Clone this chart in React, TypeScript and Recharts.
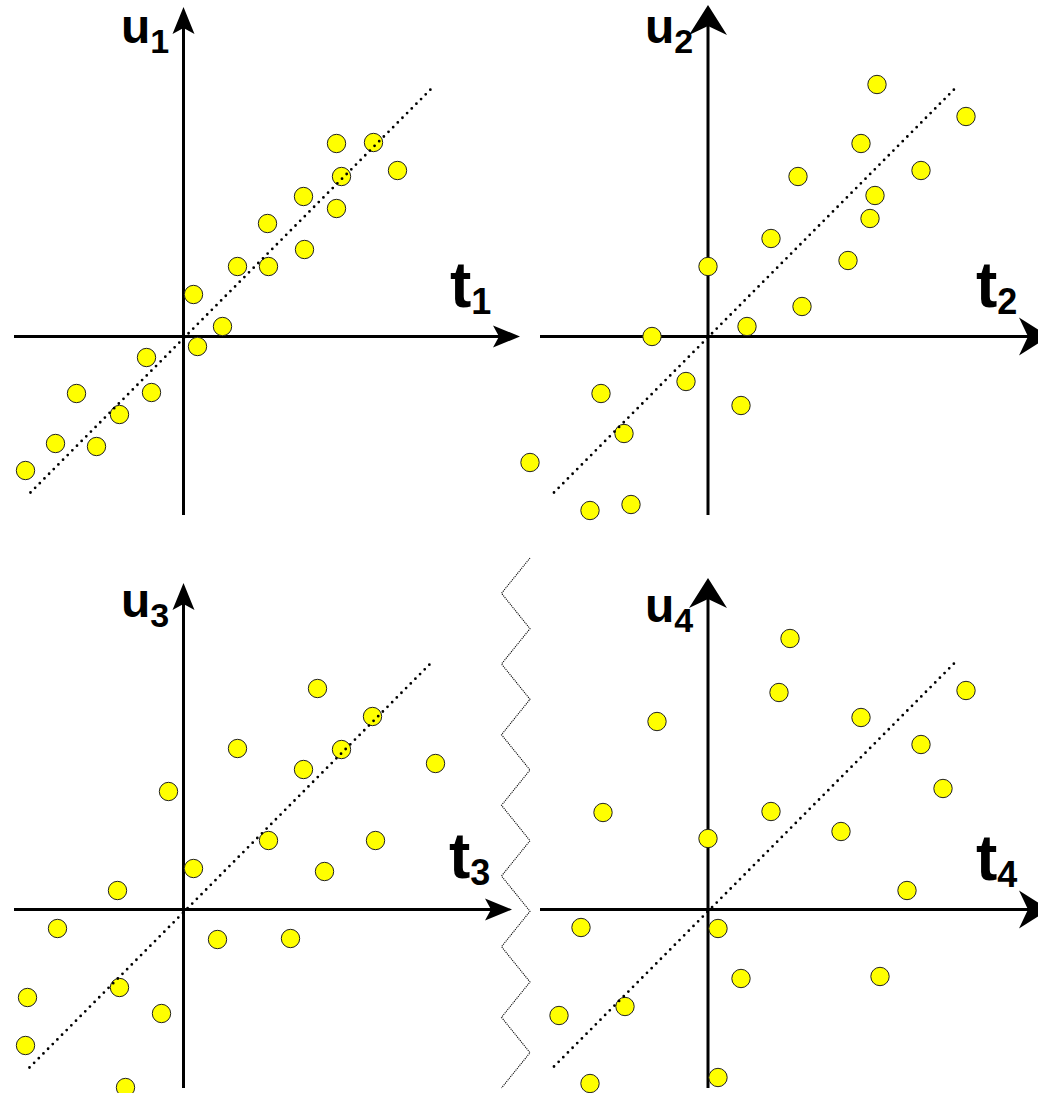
import React from 'react';
import { ScatterChart, Scatter, XAxis, YAxis, ReferenceLine } from 'recharts';

type Pt = { t: number; u: number };

// score pairs (t_i, u_i) for the four latent components
const SCORES_1: Pt[] = [
  { t: -15.8, u: -13.4 }, { t: -12.8, u: -10.7 }, { t: -8.7, u: -11.0 }, { t: -10.7, u: -5.7 },
  { t: -6.4, u: -7.8 }, { t: -3.2, u: -5.6 }, { t: -3.7, u: -2.1 }, { t: 1.4, u: -1.0 },
  { t: 1.0, u: 4.2 }, { t: 3.9, u: 1.0 }, { t: 5.4, u: 7.0 }, { t: 8.5, u: 7.0 },
  { t: 8.4, u: 11.3 }, { t: 12.1, u: 8.7 }, { t: 12.0, u: 14.0 }, { t: 15.3, u: 12.8 },
  { t: 15.8, u: 16.0 }, { t: 15.3, u: 19.3 }, { t: 19.0, u: 19.4 }, { t: 21.4, u: 16.6 },
];
const SCORES_2: Pt[] = [
  { t: -17.8, u: -12.6 }, { t: -11.8, u: -17.4 }, { t: -7.7, u: -16.8 }, { t: -10.7, u: -5.7 },
  { t: -8.4, u: -9.7 }, { t: -5.6, u: 0.0 }, { t: -2.2, u: -4.5 }, { t: 0.0, u: 7.0 },
  { t: 3.3, u: -6.9 }, { t: 3.9, u: 1.0 }, { t: 6.3, u: 9.8 }, { t: 9.0, u: 16.0 },
  { t: 9.4, u: 3.0 }, { t: 14.0, u: 7.6 }, { t: 15.3, u: 19.3 }, { t: 16.2, u: 11.8 },
  { t: 16.7, u: 14.1 }, { t: 16.9, u: 25.2 }, { t: 21.3, u: 16.6 }, { t: 25.8, u: 22.0 },
];
const SCORES_3: Pt[] = [
  { t: -15.6, u: -8.8 }, { t: -15.8, u: -13.6 }, { t: -12.6, u: -1.9 }, { t: -6.6, u: 1.9 },
  { t: -6.4, u: -7.8 }, { t: -5.8, u: -17.8 }, { t: -2.2, u: -10.4 }, { t: -1.5, u: 11.8 },
  { t: 1.0, u: 4.1 }, { t: 3.4, u: -3.0 }, { t: 5.4, u: 16.1 }, { t: 8.5, u: 6.9 },
  { t: 10.7, u: -2.9 }, { t: 12.0, u: 14.0 }, { t: 13.4, u: 22.1 }, { t: 14.1, u: 3.8 },
  { t: 15.8, u: 16.0 }, { t: 18.9, u: 19.3 }, { t: 19.2, u: 6.9 }, { t: 25.2, u: 14.6 },
];
const SCORES_4: Pt[] = [
  { t: -14.9, u: -10.6 }, { t: -12.7, u: -1.8 }, { t: -11.8, u: -17.4 }, { t: -10.5, u: 9.7 },
  { t: -8.3, u: -9.7 }, { t: -5.1, u: 18.8 }, { t: 0.0, u: 7.1 }, { t: 1.0, u: -1.9 },
  { t: 1.0, u: -16.8 }, { t: 3.3, u: -6.9 }, { t: 6.3, u: 9.8 }, { t: 7.1, u: 21.7 },
  { t: 8.2, u: 27.1 }, { t: 13.3, u: 7.8 }, { t: 15.3, u: 19.2 }, { t: 17.2, u: -6.7 },
  { t: 19.9, u: 1.9 }, { t: 21.3, u: 16.5 }, { t: 23.5, u: 12.1 }, { t: 25.8, u: 21.9 },
];

// u = t reference lines
const TREND_1: Pt[] = [{ t: -15.3, u: -15.6 }, { t: 25.0, u: 25.0 }];
const TREND_2: Pt[] = [{ t: -15.4, u: -15.6 }, { t: 24.8, u: 24.9 }];
const TREND_3: Pt[] = [{ t: -15.4, u: -15.8 }, { t: 24.9, u: 24.8 }];
const TREND_4: Pt[] = [{ t: -15.4, u: -15.7 }, { t: 24.8, u: 24.8 }];

// axis extents [start, arrow tip]
const T_AXIS = [[-16.95, 33.65], [-16.8, 34.1], [-16.95, 32.85], [-16.8, 34.1]];
const U_AXIS = [[-17.85, 32.95], [-17.85, 33.15], [-17.85, 32.65], [-17.85, 33.15]];

const T_LABELS = ['t', 't', 't', 't'];
const U_LABELS = ['u', 'u', 'u', 'u'];
const SUBSCRIPTS = ['1', '2', '3', '4'];

// break marker between the lower panels (in panel 3 units)
const ZIGZAG: Pt[] = [
  { t: 34.65, u: 35.15 }, { t: 31.8, u: 31.62 }, { t: 34.65, u: 28.08 }, { t: 31.8, u: 24.55 },
  { t: 34.65, u: 21.02 }, { t: 31.8, u: 17.48 }, { t: 34.65, u: 13.95 }, { t: 31.8, u: 10.42 },
  { t: 34.65, u: 6.88 }, { t: 31.8, u: 3.35 }, { t: 34.65, u: -0.18 }, { t: 31.8, u: -3.72 },
  { t: 34.65, u: -7.25 }, { t: 31.8, u: -10.78 }, { t: 34.65, u: -14.32 }, { t: 31.8, u: -17.85 },
];

const PX = 10; // pixels per unit
const BOX_W = 560;
const BOX_H = 545;

// len: tip to wing tips, notch: tip to the inner back point
type Head = { len: number; half: number; notch: number };
const SMALL: Head = { len: 27, half: 11, notch: 21 };
const BIG: Head = { len: 30, half: 19, notch: 21 };

const panels = [
  { left: 0, top: 0, ox: 183.5, oy: 336.5, data: SCORES_1, trend: TREND_1, head: SMALL, tl: [450, 307], ul: [121, 43] },
  { left: 505, top: 0, ox: 203, oy: 336.5, data: SCORES_2, trend: TREND_2, head: BIG, tl: [976, 307], ul: [645, 43] },
  { left: 0, top: 548, ox: 183.5, oy: 361.5, data: SCORES_3, trend: TREND_3, head: SMALL, tl: [449, 878], ul: [121, 617] },
  { left: 505, top: 548, ox: 203, oy: 361.5, data: SCORES_4, trend: TREND_4, head: BIG, tl: [976, 880], ul: [645, 622] },
];

const arrowShape = (head: Head) => (p: any) => {
  const { x1, y1, x2, y2 } = p;
  const dx = x2 - x1;
  const dy = y2 - y1;
  const d = Math.hypot(dx, dy) || 1;
  const ux = dx / d;
  const uy = dy / d;
  const nx = -uy;
  const ny = ux;
  const bx = x2 - ux * head.len;
  const by = y2 - uy * head.len;
  const mx = x2 - ux * head.notch;
  const my = y2 - uy * head.notch;
  const pts = [
    [x2, y2],
    [bx + nx * head.half, by + ny * head.half],
    [mx, my],
    [bx - nx * head.half, by - ny * head.half],
  ].map((q) => q.join(',')).join(' ');
  return (
    <g>
      <line x1={x1} y1={y1} x2={mx} y2={my} stroke="#000" strokeWidth={3} />
      <polygon points={pts} fill="#000" />
    </g>
  );
};

const dot = (p: any) => (
  <circle cx={p.cx} cy={p.cy} r={9.2} fill="#ffff00" stroke="#222" strokeWidth={1} />
);
const noDot = () => <g />;

function Panel({ idx }: { idx: number }) {
  const p = panels[idx];
  const xDom = [-p.ox / PX, (BOX_W - p.ox) / PX];
  const yDom = [-(BOX_H - p.oy) / PX, p.oy / PX];
  const [t0, t1] = T_AXIS[idx];
  const [u0, u1] = U_AXIS[idx];
  return (
    <div style={{ position: 'absolute', left: p.left, top: p.top }}>
      <ScatterChart width={BOX_W} height={BOX_H} margin={{ top: 0, right: 0, bottom: 0, left: 0 }}>
        <XAxis type="number" dataKey="t" domain={xDom} allowDataOverflow hide />
        <YAxis type="number" dataKey="u" domain={yDom} allowDataOverflow hide />
        <Scatter data={p.data} shape={dot} isAnimationActive={false} />
        <Scatter
          data={p.trend}
          shape={noDot}
          line={{ stroke: '#000', strokeWidth: 2.8, strokeDasharray: '0 6.6', strokeLinecap: 'round' }}
          isAnimationActive={false}
        />
        {idx === 2 && (
          <Scatter
            data={ZIGZAG}
            shape={noDot}
            line={{ stroke: '#000', strokeWidth: 1.1, strokeDasharray: '1.1 1' }}
            isAnimationActive={false}
          />
        )}
        <ReferenceLine segment={[{ x: t0, y: 0 }, { x: t1, y: 0 }]} shape={arrowShape(p.head)} />
        <ReferenceLine segment={[{ x: 0, y: u0 }, { x: 0, y: u1 }]} shape={arrowShape(p.head)} />
      </ScatterChart>
    </div>
  );
}

export default function App() {
  return (
    <div
      style={{
        position: 'absolute', left: 0, top: 0, width: 1038, height: 1093,
        overflow: 'hidden', background: '#fff',
      }}
    >
      {panels.map((_, i) => (
        <Panel key={i} idx={i} />
      ))}
      <svg
        width={1038}
        height={1093}
        style={{ position: 'absolute', left: 0, top: 0, pointerEvents: 'none' }}
        fontFamily="'Liberation Sans', Arial, sans-serif"
        fontWeight="bold"
      >
        {panels.map((p, i) => (
          <g key={i}>
            <text x={p.ul[0]} y={p.ul[1]} fontSize={48}>
              {U_LABELS[i]}
              <tspan fontSize={34} dy={10}>{SUBSCRIPTS[i]}</tspan>
            </text>
            <text x={p.tl[0]} y={p.tl[1]} fontSize={64}>
              {T_LABELS[i]}
              <tspan fontSize={36} dy={7}>{SUBSCRIPTS[i]}</tspan>
            </text>
          </g>
        ))}
      </svg>
    </div>
  );
}
